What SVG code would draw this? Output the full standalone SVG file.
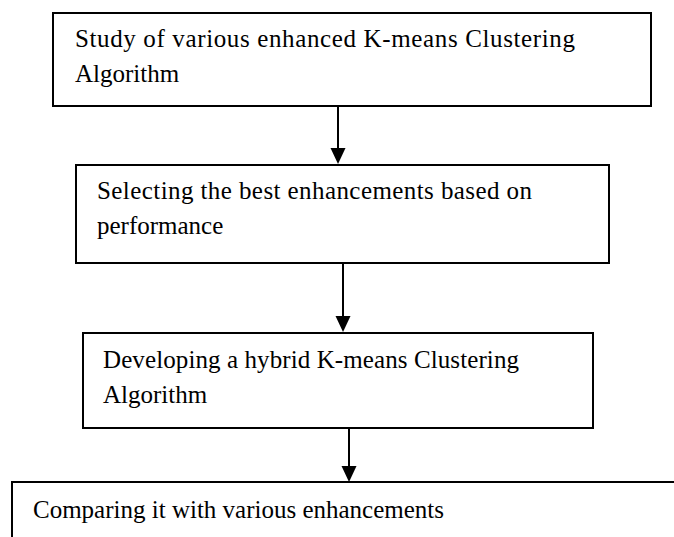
<svg xmlns="http://www.w3.org/2000/svg" width="674" height="537" viewBox="0 0 674 537">
<style>
.box{fill:#fff;stroke:#000;stroke-width:2}
.t{font-family:"Liberation Serif","Times New Roman",serif;font-size:25px;fill:#000}
.c{stroke:#000;stroke-width:2;fill:none}
.ah{fill:#000}
</style>
<rect width="674" height="537" fill="#fff"/>
<g id="n1"><rect class="box" x="53" y="13" width="598" height="93"/>
<text class="t" x="75" y="47" textLength="500" lengthAdjust="spacing">Study of various enhanced K-means Clustering</text>
<text class="t" x="75" y="82">Algorithm</text></g>
<g id="n2"><rect class="box" x="76" y="165" width="533" height="98"/>
<text class="t" x="97" y="199" textLength="435" lengthAdjust="spacing">Selecting the best enhancements based on</text>
<text class="t" x="97" y="234">performance</text></g>
<g id="n3"><rect class="box" x="83" y="333" width="510" height="95"/>
<text class="t" x="103" y="368" textLength="416" lengthAdjust="spacing">Developing a hybrid K-means Clustering</text>
<text class="t" x="103" y="403">Algorithm</text></g>
<g id="n4"><path class="box" d="M12,545 L12,482 L680,482"/>
<text class="t" x="33" y="518">Comparing it with various enhancements</text></g>
<g id="connectors">
<line class="c" x1="338" y1="106" x2="338" y2="150"/>
<path class="ah" d="M330.5,148 L345.5,148 L338,164 Z"/>
<line class="c" x1="343" y1="263" x2="343" y2="318"/>
<path class="ah" d="M335.5,316 L350.5,316 L343,332 Z"/>
<line class="c" x1="349" y1="428" x2="349" y2="468"/>
<path class="ah" d="M341.5,466 L356.5,466 L349,482 Z"/>
</g>
</svg>
